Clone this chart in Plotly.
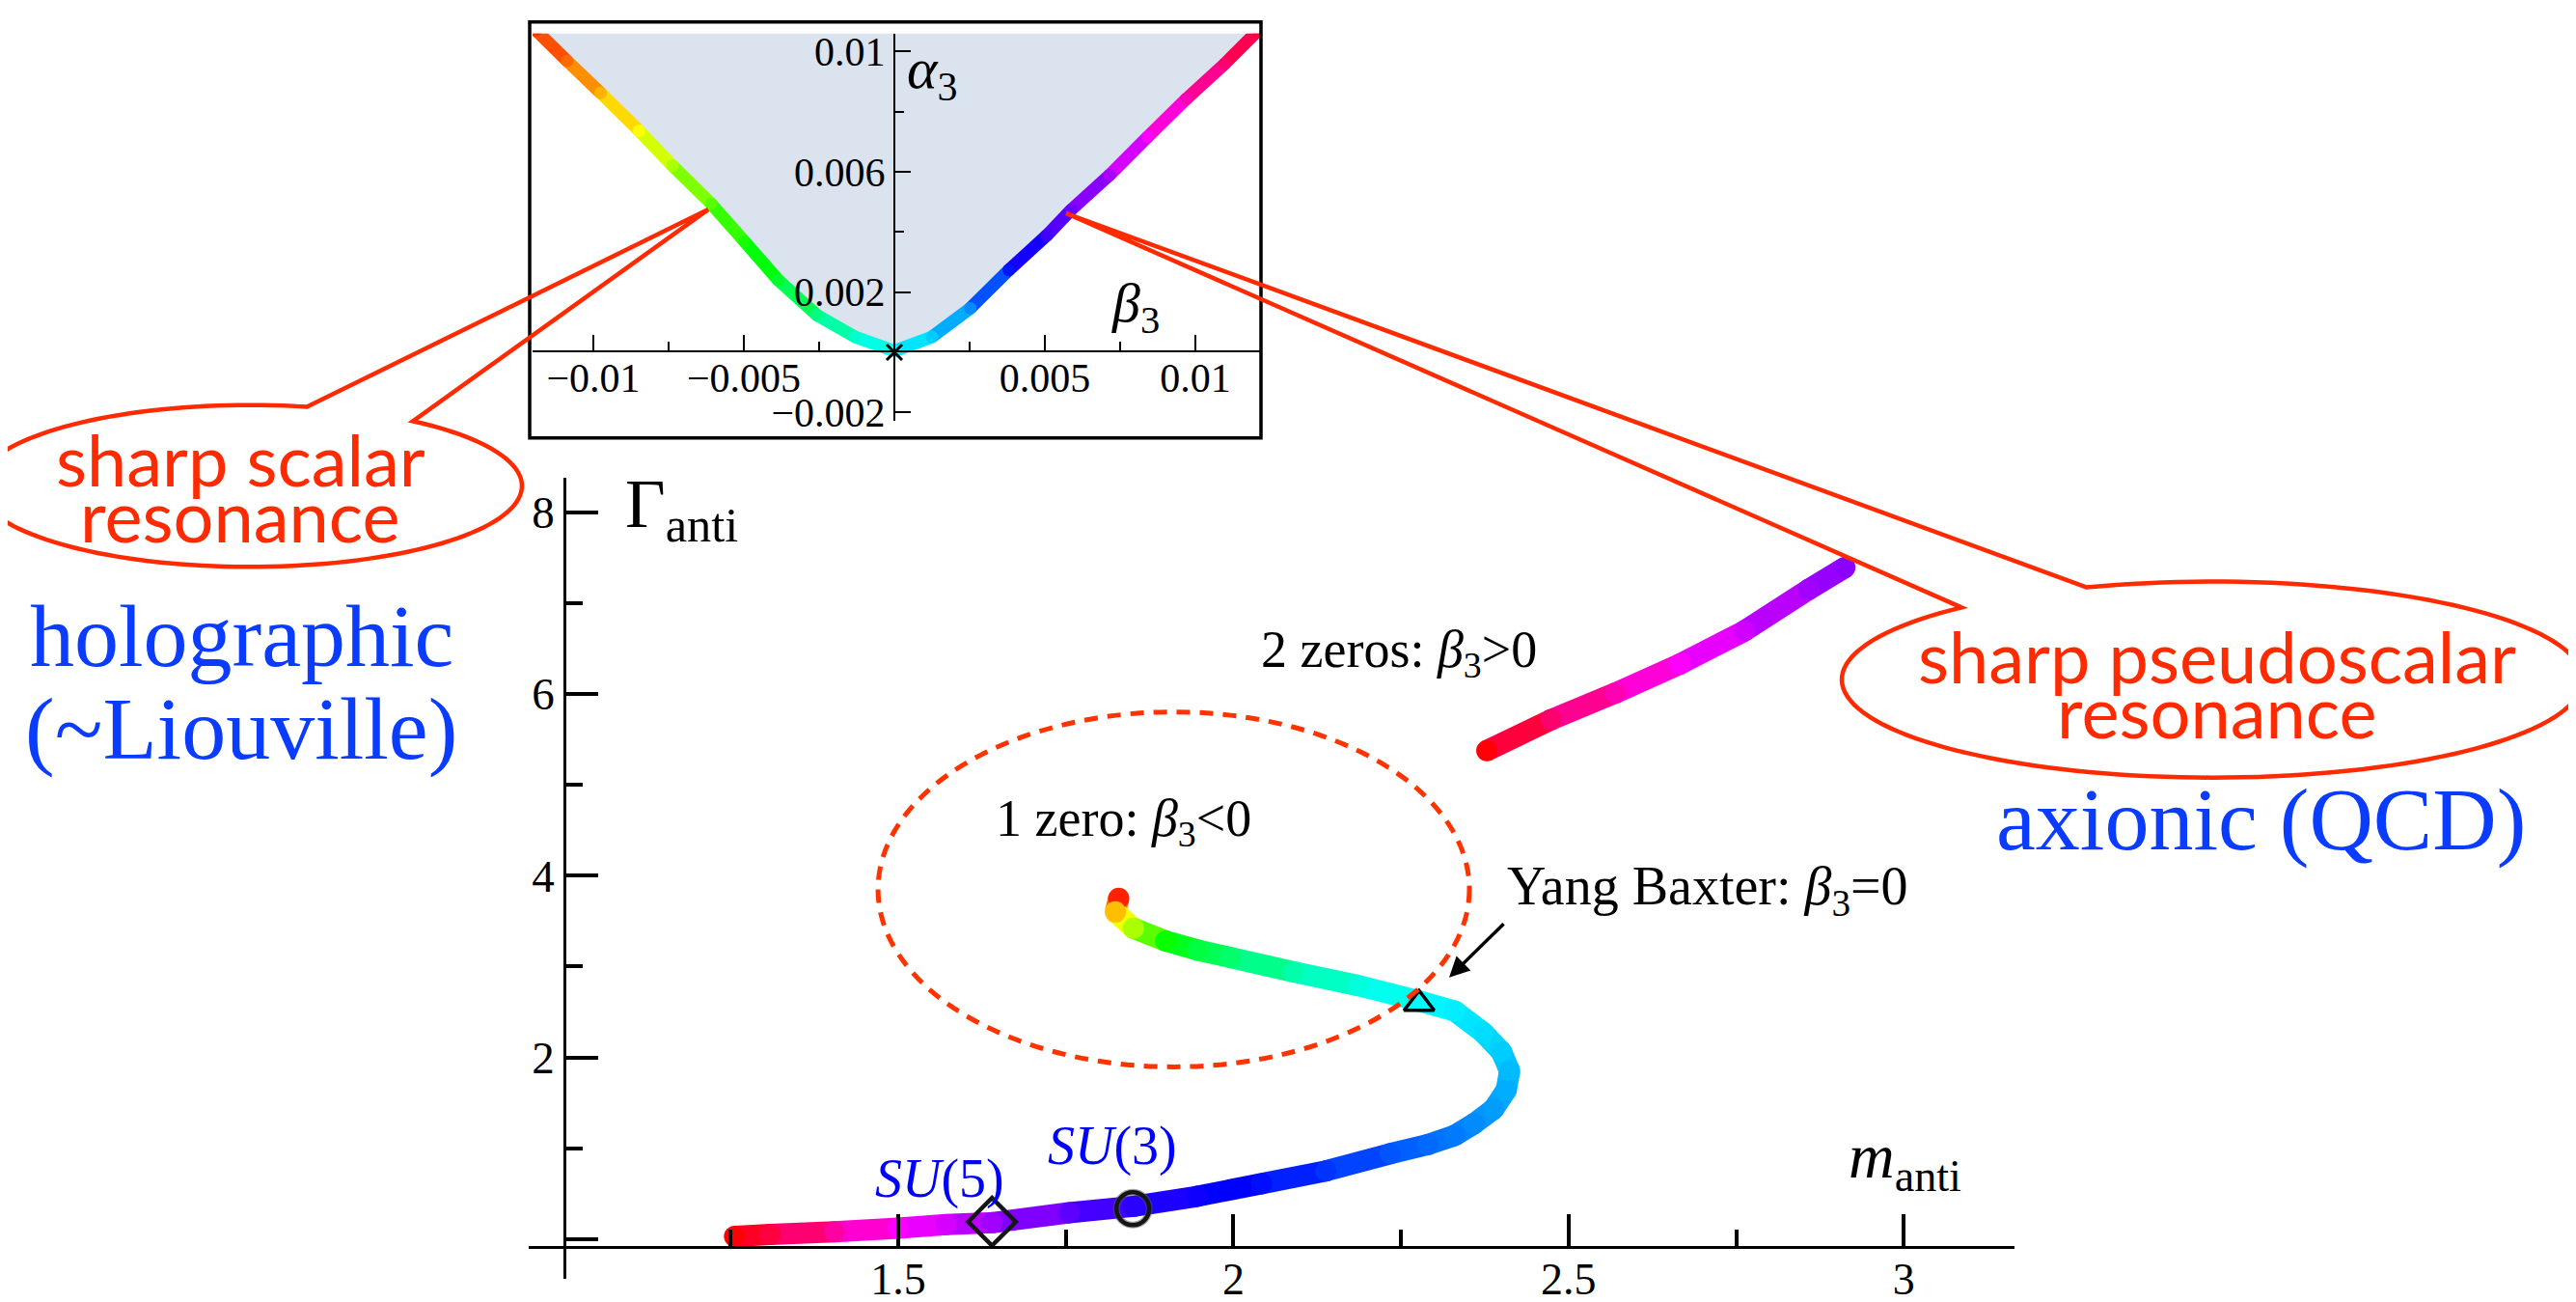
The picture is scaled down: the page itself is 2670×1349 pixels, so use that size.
import math
import colorsys
import plotly.graph_objects as go

W, H = 2670, 1349

# ---------------- data ----------------
# main resonance track (1 zero -> Yang-Baxter -> SU(N) region)
main_m = [1.829, 1.824, 1.851, 1.899, 1.947, 1.995, 2.090, 2.186, 2.277, 2.330,
          2.373, 2.400, 2.412, 2.407, 2.388, 2.359, 2.330, 2.290, 2.234, 2.138,
          2.042, 1.946, 1.851, 1.755, 1.640, 1.572, 1.500, 1.405, 1.309, 1.256]
main_gamma = [3.75, 3.60, 3.42, 3.28, 3.18, 3.10, 2.94, 2.79, 2.62, 2.51,
              2.27, 2.06, 1.85, 1.64, 1.43, 1.27, 1.14, 1.04, 0.94, 0.75,
              0.61, 0.47, 0.36, 0.29, 0.18, 0.16, 0.12, 0.08, 0.05, 0.03]
main_hue = [8, 45, 80, 118, 135, 145, 160, 172, 180, 184,
            188, 192, 196, 199, 203, 207, 211, 215, 220, 228,
            237, 243, 250, 262, 278, 290, 300, 322, 345, 358]

# "2 zeros" branch
two_m = [2.378, 2.474, 2.570, 2.666, 2.762, 2.858, 2.912]
two_gamma = [5.375, 5.717, 6.010, 6.328, 6.691, 7.149, 7.39]
two_hue = [358, 334, 318, 300, 289, 278, 273]

# inset: alpha_3 vs beta_3
inset_beta = [-0.01191, -0.01087, -0.00976, -0.00848, -0.00737, -0.00609, -0.00497,
              -0.00386, -0.00258, -0.0013, 0.0, 0.00125, 0.00252, 0.0038, 0.00507,
              0.00587, 0.00715, 0.00842, 0.0097, 0.01097, 0.01209]
inset_alpha = [0.0107, 0.00968, 0.00862, 0.00736, 0.0062, 0.00494, 0.00367,
               0.0024, 0.00124, 0.00051, 0.00004, 0.00051, 0.00146, 0.00273, 0.00389,
               0.00473, 0.00589, 0.00716, 0.00842, 0.00958, 0.0107]
inset_hue = [12, 25, 42, 60, 80, 100, 115, 130, 150, 168, 180, 192, 207, 235, 255,
             265, 280, 300, 318, 334, 348]

# special points
su5_m, su5_gamma = 1.640, 0.19
su3_m, su3_gamma = 1.850, 0.335
yb_m, yb_gamma = 2.277, 2.59

# ticks
x_tickvals = [1.5, 2, 2.5, 3]
x_ticktext = ["1.5", "2", "2.5", "3"]
x_minor = [1.25, 1.75, 2.25, 2.75]
y_tickvals = [0, 2, 4, 6, 8]
y_ticktext = ["", "2", "4", "6", "8"]
y_minor = [1, 3, 5, 7]
ix_tickvals = [-0.01, -0.005, 0.005, 0.01]
ix_ticktext = ["\u22120.01", "\u22120.005", "0.005", "0.01"]
ix_minor = [-0.0075, -0.0025, 0.0025, 0.0075]
iy_tickvals = [-0.002, 0.002, 0.006, 0.01]
iy_ticktext = ["\u22120.002", "0.002", "0.006", "0.01"]
iy_minor = [0.004, 0.008]

# ---------------- helpers ----------------
SERIF = "Liberation Serif, Times New Roman, serif"
SANS = "Lato, Open Sans, sans-serif"
RED = "#ff2a00"
BLUE = "#0a3cff"


def hue(h):
    r, g, b = colorsys.hsv_to_rgb((h % 360) / 360.0, 1, 1)
    return f"rgb({round(r*255)},{round(g*255)},{round(b*255)})"


def px(x):
    return x / W


def py(y):
    return 1 - y / H


def gradient(fig, xs, ys, hs, width, xa="x", ya="y"):
    for i in range(len(xs) - 1):
        fig.add_trace(go.Scatter(
            x=[xs[i], xs[i + 1]], y=[ys[i], ys[i + 1]], mode="lines",
            line=dict(color=hue((hs[i] + hs[i + 1]) / 2), width=width),
            xaxis=xa, yaxis=ya, hoverinfo="skip", showlegend=False))
    fig.add_trace(go.Scatter(
        x=xs, y=ys, mode="markers",
        marker=dict(color=[hue(h) for h in hs], size=width, line=dict(width=0)),
        xaxis=xa, yaxis=ya, hoverinfo="skip", showlegend=False))


fig = go.Figure()

# inset shaded region and curve
fig.add_trace(go.Scatter(x=inset_beta, y=inset_alpha, mode="lines", fill="toself",
                         fillcolor="#dbe4ee", line=dict(width=0), xaxis="x2", yaxis="y2",
                         hoverinfo="skip", showlegend=False))
gradient(fig, inset_beta, inset_alpha, inset_hue, 13, "x2", "y2")
fig.add_trace(go.Scatter(x=[0], y=[0], mode="markers",
                         marker=dict(symbol="x-thin", size=16, color="black",
                                     line=dict(width=3, color="black")),
                         xaxis="x2", yaxis="y2", hoverinfo="skip", showlegend=False))

# main curves
gradient(fig, main_m, main_gamma, main_hue, 22)
gradient(fig, two_m, two_gamma, two_hue, 22)

# markers (with a soft grey shadow as in the original)
fig.add_trace(go.Scatter(x=[su5_m], y=[su5_gamma], mode="markers",
                         marker=dict(symbol="diamond-open", size=38, color="#151515",
                                     line=dict(width=4.5, color="#151515")),
                         hoverinfo="skip", showlegend=False))
fig.add_trace(go.Scatter(x=[su3_m], y=[su3_gamma], mode="markers",
                         marker=dict(symbol="circle-open", size=34, color="rgba(90,90,90,0.55)",
                                     line=dict(width=7, color="rgba(90,90,90,0.55)")),
                         hoverinfo="skip", showlegend=False))
fig.add_trace(go.Scatter(x=[su3_m], y=[su3_gamma], mode="markers",
                         marker=dict(symbol="circle-open", size=34, color="#151515",
                                     line=dict(width=4.5, color="#151515")),
                         hoverinfo="skip", showlegend=False))
fig.add_trace(go.Scatter(x=[yb_m], y=[yb_gamma], mode="markers",
                         marker=dict(symbol="triangle-up-open", size=27, color="black",
                                     line=dict(width=3.5, color="black")),
                         hoverinfo="skip", showlegend=False))

# ---------------- axes ----------------
axis_common = dict(showgrid=False, zeroline=False, showline=True, linecolor="black",
                   ticks="inside", tickcolor="black", fixedrange=True)

fig.update_layout(
    width=W, height=H, margin=dict(l=0, r=0, t=0, b=0),
    paper_bgcolor="white", plot_bgcolor="rgba(0,0,0,0)", showlegend=False,
    xaxis=dict(**axis_common, domain=[px(540), px(2080)], range=[0.949, 3.165],
               anchor="free", position=py(1298), linewidth=2.5,
               tickvals=x_tickvals, ticktext=x_ticktext, ticklen=33, tickwidth=3.5,
               ticklabelstandoff=-8,
               tickfont=dict(family=SERIF, size=46, color="black"),
               minor=dict(tickvals=x_minor, ticks="inside", ticklen=17, tickwidth=3.5,
                          tickcolor="black")),
    yaxis=dict(**axis_common, domain=[py(1332), py(490)], range=[-0.44, 8.377],
               anchor="free", position=px(577), linewidth=2.5,
               tickvals=y_tickvals, ticktext=y_ticktext, ticklen=33, tickwidth=3.5,
               tickfont=dict(family=SERIF, size=47, color="black"),
               minor=dict(tickvals=y_minor, ticks="inside", ticklen=17, tickwidth=3.5,
                          tickcolor="black")),
    xaxis2=dict(**axis_common, domain=[px(544), px(1298)], range=[-0.012019, 0.012147],
                anchor="free", position=py(357), linewidth=2,
                tickvals=ix_tickvals, ticktext=ix_ticktext, ticklen=16, tickwidth=2,
                ticklabelstandoff=-9,
                tickfont=dict(family=SERIF, size=42, color="black"),
                minor=dict(tickvals=ix_minor, ticks="inside", ticklen=9, tickwidth=2,
                           tickcolor="black")),
    yaxis2=dict(**axis_common, domain=[py(430), py(23)], range=[-0.002277, 0.010593],
                anchor="free", position=px(919), linewidth=2,
                tickvals=iy_tickvals, ticktext=iy_ticktext, ticklen=16, tickwidth=2,
                tickfont=dict(family=SERIF, size=42, color="black"),
                minor=dict(tickvals=iy_minor, ticks="inside", ticklen=9, tickwidth=2,
                           tickcolor="black")),
)

# ---------------- shapes ----------------
shapes = []
# inset frame
shapes.append(dict(type="rect", xref="paper", yref="paper", x0=px(541), x1=px(1299),
                   y0=py(448), y1=py(11), line=dict(color="black", width=3.5), layer="above"))
# dashed ellipse around the 1-zero region (data coords)
ec_m, ec_g, er_m, er_g = 1.911, 3.848, 0.441, 1.953
shapes.append(dict(type="circle", xref="x", yref="y", x0=ec_m - er_m, x1=ec_m + er_m,
                   y0=ec_g - er_g, y1=ec_g + er_g,
                   line=dict(color="#ff3300", width=5, dash="14px,10px"), layer="above"))


def bubble(cx, cy, rx, ry, apex, t_gap_a, t_gap_b, ccw):
    """speech-bubble outline: ellipse with a wedge to apex (pixel coords)."""
    def pt(t):
        return (cx + rx * math.cos(math.radians(t)), cy - ry * math.sin(math.radians(t)))
    a = pt(t_gap_a)
    b = pt(t_gap_b)
    path = f"M {px(a[0])},{py(a[1])} L {px(apex[0])},{py(apex[1])} L {px(b[0])},{py(b[1])}"
    n = 140
    if ccw:
        t0, t1 = t_gap_b, t_gap_a + 360
    else:
        t0, t1 = t_gap_b, t_gap_a - 360
    for i in range(1, n + 1):
        t = t0 + (t1 - t0) * i / n
        x, y = pt(t)
        path += f" L {px(x)},{py(y)}"
    return path + " Z"


shapes.append(dict(type="path", xref="paper", yref="paper",
                   path=bubble(251, 498.5, 282, 85, (726, 208), 77.9, 53.2, False),
                   line=dict(color=RED, width=4.5), layer="above"))
shapes.append(dict(type="path", xref="paper", yref="paper",
                   path=bubble(2285, 702, 384, 103, (1097, 212), 109.8, 132.6, True),
                   line=dict(color=RED, width=4.5), layer="above"))
fig.update_layout(shapes=shapes)

# ---------------- annotations ----------------
ann = []


def text(t, x, y, size, color="black", family=SERIF, xanchor="left"):
    ann.append(dict(text=t, x=px(x), y=py(y), xref="paper", yref="paper", showarrow=False,
                    xanchor=xanchor, yanchor="middle",
                    font=dict(family=family, size=size, color=color)))


text("\u0393<sub>anti</sub>", 638, 522, 72)
text("<i>m</i><sub>anti</sub>", 1906, 1208, 66)
text("<i>\u03b1</i><sub>3</sub>", 930, 64, 60)
text("<i>\u03b2</i><sub>3</sub>", 1142, 310, 58)
text("2 zeros: <i>\u03b2</i><sub>3</sub>&gt;0", 1587, 674, 54, xanchor="right")
text("1 zero: <i>\u03b2</i><sub>3</sub>&lt;0", 1022, 851, 54)
text("Yang Baxter: <i>\u03b2</i><sub>3</sub>=0", 1552, 923, 56)
text("<i>SU</i>(5)", 966, 1227, 56, color="#0000ff", xanchor="center")
text("<i>SU</i>(3)", 1145, 1192, 56, color="#0000ff", xanchor="center")
text("sharp scalar", 241, 470, 74, color=RED, family=SANS, xanchor="center")
text("resonance", 241, 529, 74, color=RED, family=SANS, xanchor="center")
text("sharp pseudoscalar", 2290, 677, 74, color=RED, family=SANS, xanchor="center")
text("resonance", 2290, 735, 74, color=RED, family=SANS, xanchor="center")
text("holographic", 242, 656, 92, color=BLUE, xanchor="center")
text("(~Liouville)", 242, 754, 92, color=BLUE, xanchor="center")
text("axionic (QCD)", 2335, 849, 92, color=BLUE, xanchor="center")

# Yang-Baxter arrow
ann.append(dict(text="", x=px(1494), y=py(1015), xref="paper", yref="paper",
                showarrow=True, ax=58, ay=-57, arrowhead=2, arrowsize=1.2,
                arrowwidth=3.5, arrowcolor="black", standoff=0))
fig.update_layout(annotations=ann)

fig.write_html("out.html")
